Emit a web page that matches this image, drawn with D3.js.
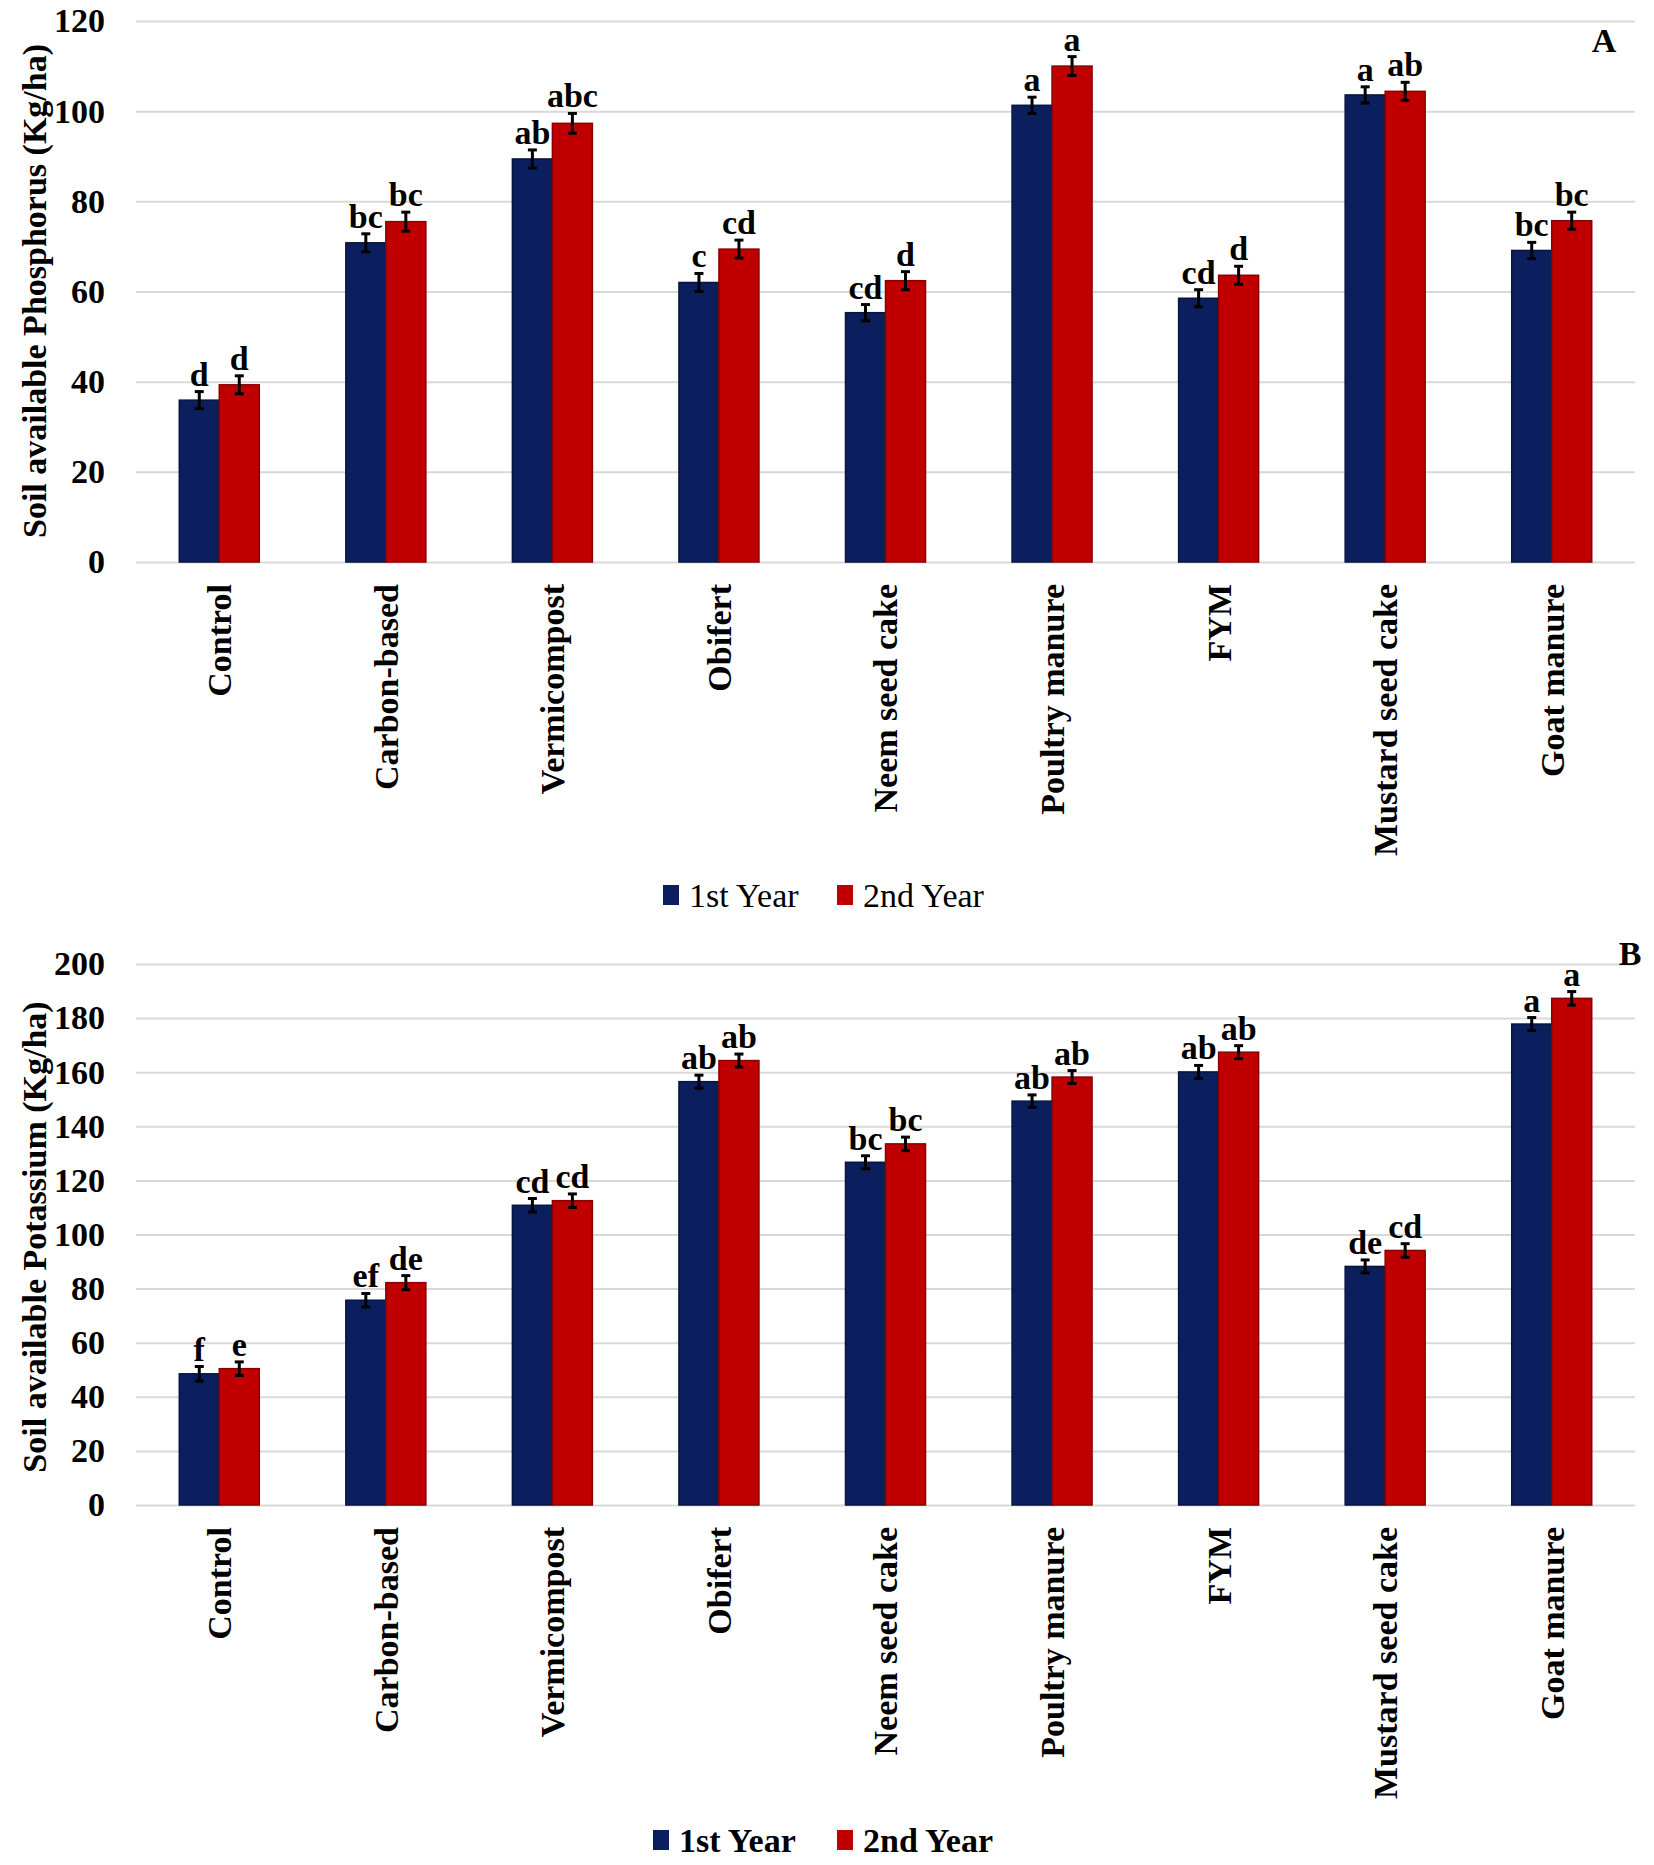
<!DOCTYPE html>
<html>
<head>
<meta charset="utf-8">
<script src="https://cdn.jsdelivr.net/npm/d3@7"></script>
<style>
  html, body { margin: 0; padding: 0; background: #fff; }
  svg text { font-family: "Liberation Serif", "Times New Roman", serif; fill: #000; }
</style>
</head>
<body>
<svg id="chart" width="1654" height="1865"></svg>
<script>
// Treatments on the x axis (same for both panels)
var categories = ['Control', 'Carbon-based', 'Vermicompost', 'Obifert', 'Neem seed cake',
  'Poultry manure', 'FYM', 'Mustard seed cake', 'Goat manure'];
var seriesNames = ['1st Year', '2nd Year'];

// Panel A: soil available phosphorus (Kg/ha)
var phosYear1 = [35.9, 70.8, 89.4, 62.0, 55.3, 101.3, 58.5, 103.6, 69.1];
var phosYear2 = [39.3, 75.5, 97.3, 69.4, 62.4, 110.0, 63.6, 104.4, 75.7];
var phosErr1 = [1.9, 2.0, 2.0, 2.0, 1.8, 1.8, 1.9, 1.8, 1.8];
var phosErr2 = [2.0, 2.1, 2.2, 2.0, 2.0, 2.1, 2.0, 2.0, 1.9];
var phosLetters1 = ['d', 'bc', 'ab', 'c', 'cd', 'a', 'cd', 'a', 'bc'];
var phosLetters2 = ['d', 'bc', 'abc', 'cd', 'd', 'a', 'd', 'ab', 'bc'];
var phosTicks = [0, 20, 40, 60, 80, 100, 120];

// Panel B: soil available potassium (Kg/ha)
var potYear1 = [48.5, 75.7, 110.8, 156.5, 126.7, 149.3, 160.1, 88.2, 177.8];
var potYear2 = [50.4, 82.2, 112.5, 164.3, 133.5, 158.2, 167.4, 94.1, 187.3];
var potErr1 = [2.7, 2.5, 2.5, 2.4, 2.4, 2.3, 2.4, 2.4, 2.4];
var potErr2 = [2.5, 2.6, 2.5, 2.4, 2.5, 2.4, 2.4, 2.5, 2.5];
var potLetters1 = ['f', 'ef', 'cd', 'ab', 'bc', 'ab', 'ab', 'de', 'a'];
var potLetters2 = ['e', 'de', 'cd', 'ab', 'bc', 'ab', 'ab', 'cd', 'a'];
var potTicks = [0, 20, 40, 60, 80, 100, 120, 140, 160, 180, 200];

var colors = ['#0b1f5e', '#c00000'];
var edges = ['#07153f', '#8a0000'];

var svg = d3.select('#chart');

/**
 * Draws one grouped bar panel with error bars, letters,
 * rotated category labels and a legend underneath.
 */
function drawPanel(opt) {
  var g = svg.append('g');

  var x0 = d3.scaleBand()
    .domain(categories)
    .range([opt.left, opt.right])
    .padding(0);

  // the two bars take roughly half of each category slot
  var pairW = 80;
  var x1 = d3.scaleBand()
    .domain([0, 1])
    .range([(x0.bandwidth() - pairW) / 2, (x0.bandwidth() + pairW) / 2]);

  var y = d3.scaleLinear()
    .domain([0, opt.ticks[opt.ticks.length - 1]])
    .range([opt.bottom, opt.top]);

  // light grey gridlines, the zero line is the same colour
  var yAxis = d3.axisLeft(y)
    .tickValues(opt.ticks)
    .tickSize(-(opt.right - opt.left))
    .tickPadding(opt.left - 105);

  var ax = g.append('g')
    .attr('transform', 'translate(' + opt.left + ',0)')
    .call(yAxis);
  ax.select('.domain').remove();
  ax.selectAll('.tick line').attr('stroke', '#d9d9d9').attr('stroke-width', 2);
  ax.selectAll('.tick text')
    .attr('font-size', 34)
    .attr('font-weight', 'bold')
    .attr('font-family', '"Liberation Serif", serif')
    .attr('fill', '#000');

  // one row per category with both years
  var rows = categories.map(function(c, i) {
    return {
      cat: c,
      bars: opt.values.map(function(s, k) {
        return { k: k, v: s[i], e: opt.errors[k][i], l: opt.letters[k][i] };
      })
    };
  });

  var grp = g.selectAll('g.cat')
    .data(rows)
    .enter().append('g')
    .attr('class', 'cat')
    .attr('transform', function(d) { return 'translate(' + x0(d.cat) + ',0)'; });

  var bar = grp.selectAll('g.bar')
    .data(function(d) { return d.bars; })
    .enter().append('g')
    .attr('class', 'bar');

  bar.append('rect')
    .attr('x', function(d) { return x1(d.k); })
    .attr('width', x1.bandwidth())
    .attr('y', function(d) { return y(d.v); })
    .attr('height', function(d) { return opt.bottom - y(d.v); })
    .attr('fill', function(d) { return colors[d.k]; })
    .attr('stroke', function(d) { return edges[d.k]; })
    .attr('stroke-width', 1.5);

  // error bars
  var cx = function(d) { return x1(d.k) + x1.bandwidth() / 2; };
  bar.append('line')
    .attr('x1', cx).attr('x2', cx)
    .attr('y1', function(d) { return y(d.v + d.e); })
    .attr('y2', function(d) { return y(d.v - d.e); })
    .attr('stroke', '#000').attr('stroke-width', 3);
  [1, -1].forEach(function(sgn) {
    bar.append('line')
      .attr('x1', function(d) { return cx(d) - 4.5; })
      .attr('x2', function(d) { return cx(d) + 4.5; })
      .attr('y1', function(d) { return y(d.v + sgn * d.e); })
      .attr('y2', function(d) { return y(d.v + sgn * d.e); })
      .attr('stroke', '#000').attr('stroke-width', 3);
  });

  // significance letters
  bar.append('text')
    .attr('x', cx)
    .attr('y', function(d) { return y(d.v + d.e) - 6; })
    .attr('text-anchor', 'middle')
    .attr('font-size', 34)
    .attr('font-weight', 'bold')
    .text(function(d) { return d.l; });

  // rotated category labels
  g.selectAll('text.cat')
    .data(categories)
    .enter().append('text')
    .attr('class', 'cat')
    .attr('transform', function(d) {
      return 'translate(' + (x0(d) + x0.bandwidth() / 2) + ',' + (opt.bottom + 22) + ') rotate(-90)';
    })
    .attr('text-anchor', 'end')
    .attr('dy', '0.35em')
    .attr('font-size', 34)
    .attr('font-weight', 'bold')
    .text(function(d) { return d; });

  // y axis title
  g.append('text')
    .attr('transform', 'translate(34,' + opt.titleY + ') rotate(-90)')
    .attr('text-anchor', 'middle')
    .attr('dy', '0.35em')
    .attr('font-size', 34)
    .attr('font-weight', 'bold')
    .text(opt.title);

  // panel letter
  g.append('text')
    .attr('x', opt.tag[0]).attr('y', opt.tag[1])
    .attr('text-anchor', 'middle')
    .attr('dy', '0.35em')
    .attr('font-size', 34)
    .attr('font-weight', 'bold')
    .text(opt.tagText);

  // legend
  var lg = g.selectAll('g.legend')
    .data(seriesNames)
    .enter().append('g')
    .attr('class', 'legend')
    .attr('transform', function(d, i) { return 'translate(' + opt.legendX[i] + ',' + opt.legendY + ')'; });
  lg.append('rect')
    .attr('x', 0).attr('y', -10)
    .attr('width', 16).attr('height', 20)
    .attr('fill', function(d, i) { return colors[i]; });
  lg.append('text')
    .attr('x', 26)
    .attr('dy', '0.35em')
    .attr('font-size', 34)
    .attr('font-weight', opt.legendBold ? 'bold' : 'normal')
    .text(function(d) { return d; });
}

drawPanel({
  values: [phosYear1, phosYear2],
  errors: [phosErr1, phosErr2],
  letters: [phosLetters1, phosLetters2],
  ticks: phosTicks,
  left: 136, right: 1635, top: 21, bottom: 562,
  title: 'Soil available Phosphorus (Kg/ha)',
  titleY: 291,
  tag: [1604, 40], tagText: 'A',
  legendX: [663, 837], legendY: 895, legendBold: false
});

drawPanel({
  values: [potYear1, potYear2],
  errors: [potErr1, potErr2],
  letters: [potLetters1, potLetters2],
  ticks: potTicks,
  left: 136, right: 1635, top: 964, bottom: 1505,
  title: 'Soil available Potassium (Kg/ha)',
  titleY: 1237,
  tag: [1630, 953], tagText: 'B',
  legendX: [653, 837], legendY: 1840, legendBold: true
});
</script>
</body>
</html>
